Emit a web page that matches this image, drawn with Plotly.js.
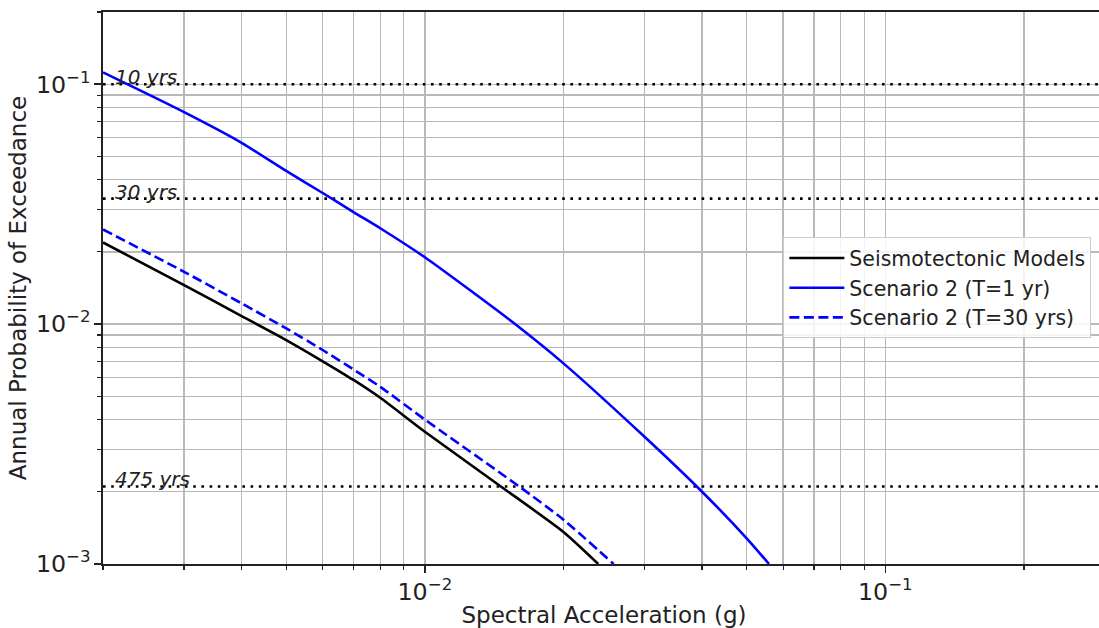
<!DOCTYPE html>
<html>
<head>
<meta charset="utf-8">
<script src="https://cdn.plot.ly/plotly-3.0.1.min.js"></script>
<style>
html,body{margin:0;padding:0;overflow:hidden;background:#fff;}
#chart{width:1110px;height:628px;}
</style>
</head>
<body>
<div id="chart"></div>
<script>
// Spectral acceleration (g) and annual probability of exceedance
const seisX = [0.002, 0.003, 0.004, 0.005, 0.006, 0.007, 0.008, 0.01, 0.0146, 0.02, 0.0238];
const seisY = [0.0219, 0.01454, 0.0108, 0.00858, 0.0070, 0.00585, 0.00493, 0.00356, 0.00211, 0.00136, 0.001];

const sc1X = [0.002, 0.003, 0.004, 0.005, 0.006, 0.007, 0.008, 0.01, 0.0125, 0.0156, 0.02, 0.03, 0.04, 0.05, 0.0559];
const sc1Y = [0.112, 0.0765, 0.0570, 0.0435, 0.0352, 0.0293, 0.0251, 0.019, 0.0139, 0.0101, 0.00686, 0.00339, 0.002, 0.00128, 0.001];

const sc30X = [0.002, 0.003, 0.004, 0.005, 0.006, 0.007, 0.008, 0.01, 0.016, 0.02, 0.0257];
const sc30Y = [0.0248, 0.01652, 0.0122, 0.0096, 0.0078, 0.00647, 0.00548, 0.004, 0.00211, 0.00153, 0.001];

const returnPeriods = [10, 30, 475];
const xRange = [0.002, 0.3];
const yRange = [0.001, 0.2];

const font = 'DejaVu Sans, Liberation Sans, sans-serif';
const ink = '#222222';

const traces = [];
returnPeriods.forEach(T => {
  traces.push({
    x: xRange, y: [1 / T, 1 / T], mode: 'lines', showlegend: false, hoverinfo: 'skip',
    line: {color: '#000', width: 2.6, dash: '2.6px,5.6px'}
  });
});
traces.push({x: seisX, y: seisY, mode: 'lines', name: 'Seismotectonic Models', legendgroup: 'a',
  line: {color: '#000000', width: 2.6, shape: 'spline', smoothing: 0.6}});
traces.push({x: sc1X, y: sc1Y, mode: 'lines', name: 'Scenario 2 (T=1 yr)', legendgroup: 'b',
  line: {color: '#0000ff', width: 2.6, shape: 'spline', smoothing: 0.6}});
traces.push({x: sc30X, y: sc30Y, mode: 'lines', name: 'Scenario 2 (T=30 yrs)', legendgroup: 'c',
  line: {color: '#0000ff', width: 2.6, dash: '10px,4.5px', shape: 'spline', smoothing: 0.6}});

const annotations = returnPeriods.map(T => ({
  x: Math.log10(0.0021), y: Math.log10(1 / T), xref: 'x', yref: 'y',
  text: '<i>' + T + ' yrs</i>', showarrow: false, xanchor: 'left', yanchor: 'bottom',
  yshift: -7, font: {family: font, size: 20, color: ink}
}));

const axisCommon = {
  type: 'log', dtick: 1, exponentformat: 'power',
  ticks: 'outside', ticklen: 7, tickwidth: 1.5, tickcolor: ink,
  showgrid: true, gridcolor: '#b9b9b9', gridwidth: 1.4,
  showline: true, linecolor: ink, linewidth: 1.6, mirror: true, zeroline: false,
  tickfont: {family: font, size: 19, color: ink},
  minor: {dtick: 'D1', ticks: 'outside', ticklen: 4, tickwidth: 1.2, tickcolor: ink,
          showgrid: true, gridcolor: '#b9b9b9', gridwidth: 1.4}
};

const layout = {
  width: 1110, height: 628,
  margin: {l: 103, r: 5, t: 12, b: 64},
  paper_bgcolor: '#fff', plot_bgcolor: '#fff',
  showlegend: true,
  xaxis: Object.assign({}, axisCommon, {
    range: [Math.log10(xRange[0]), Math.log10(xRange[1])],
    title: {text: 'Spectral Acceleration (g)', font: {family: font, size: 23, color: ink}, standoff: 9}
  }),
  yaxis: Object.assign({}, axisCommon, {
    range: [Math.log10(yRange[0]), Math.log10(yRange[1])],
    title: {text: 'Annual Probability of Exceedance', font: {family: font, size: 23, color: ink}, standoff: 3}
  }),
  legend: {
    x: 0.679, y: 0.592, xanchor: 'left', yanchor: 'top',
    bgcolor: 'rgba(255,255,255,0.85)', bordercolor: '#cccccc', borderwidth: 1,
    font: {family: font, size: 20.5, color: ink}, tracegroupgap: 0, itemwidth: 55
  },
  annotations: annotations
};

Plotly.newPlot('chart', traces, layout, {displayModeBar: false, staticPlot: true});
</script>
</body>
</html>
